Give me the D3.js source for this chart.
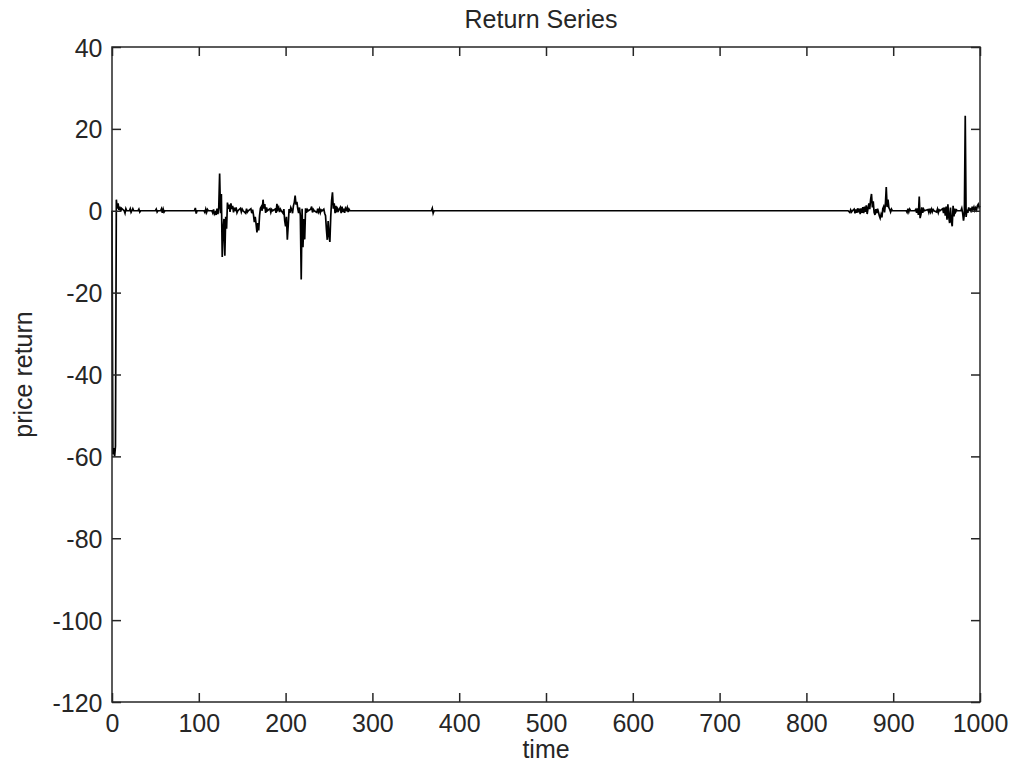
<!DOCTYPE html>
<html>
<head>
<meta charset="utf-8">
<script src="https://cdn.jsdelivr.net/npm/d3@7"></script>
<style>
  body { margin: 0; background: #fff; }
  text { font-family: "Liberation Sans", Arial, sans-serif; fill: #262626; }
</style>
</head>
<body>
<svg id="chart"></svg>
<script>
// tick labels
var xTicks = [0, 100, 200, 300, 400, 500, 600, 700, 800, 900, 1000];
var yTicks = [40, 20, 0, -20, -40, -60, -80, -100, -120];

// return series (flat at 0 between the listed points)
var tEarly = [0, 1, 2, 3, 4, 5, 6, 7, 8, 9, 10, 11, 14, 15, 16, 17, 20, 21, 22, 23, 24, 25, 30, 31, 32, 33,
    50, 51, 52, 53, 56, 57, 58, 59, 60, 61, 95, 96, 97, 98, 106, 107, 108, 109, 110, 111,
    115, 116, 117, 118, 119, 120, 121, 122, 123, 124, 125, 126, 127, 128, 129, 130, 131, 132, 133, 134,
    135, 136, 137, 138, 139, 140, 141, 142, 143, 144, 145, 148, 149, 150, 151, 154, 155, 156, 157,
    160, 161, 162, 163, 164, 165, 166, 167, 168, 169, 170, 171, 172, 173, 174, 175, 176, 177, 178, 179,
    182, 183, 184, 185, 188, 189, 190, 191, 192, 193, 194, 195, 197, 198, 199, 200, 201, 202, 203, 204,
    205, 206, 207, 208, 209, 210, 211, 212, 213, 214, 215, 216, 217, 218, 219, 220, 221, 222, 223, 224,
    225, 226, 229, 230, 231, 232, 233, 236, 237, 238, 239, 240, 241, 242, 244, 245, 246, 247, 248, 249,
    250, 251, 252, 253, 254, 255, 256, 257, 258, 259, 260, 261, 263, 264, 265, 266, 267, 268, 269, 270,
    271, 272, 273, 274];
var rEarly = [0, -59.5, -58, -60, -57.5, 2.7, 0.5, 1.8, 0.2, 1.0, -0.2, 0.6, 0, -0.6, 0.5, 0, 0, 0.5, -0.4, 0, 0.5, 0, 0, 0.4, -0.3, 0,
    0, 0.4, -0.3, 0, 0, 0.5, -0.5, 0.4, -0.3, 0, 0, 0.7, -0.7, 0, 0, -0.4, 0.4, -0.4, 0.3, 0,
    0, -0.5, 0.3, -0.8, -0.4, -1.0, 0.5, -0.8, 0.8, 9.1, -0.6, 4.1, -11.3, -4.6, -2, -11.0, -1.5, -4.4, 2, 0.5,
    1.5, -0.3, 1.8, 0.4, 1.2, -0.4, 0.5, 0.2, 0.8, -0.5, 0, 0.6, -0.3, 0.4, 0, -0.6, 0.5, -0.3, 0,
    0.5, -0.6, 0.3, -1.0, -2.8, -1.5, -3.2, -5.3, -3.0, -4.8, -1.2, 0.6, 1.0, 0, 2.7, 0.5, 1.6, -0.5, 0.8, 0,
    0.5, -0.4, 0.3, 0, 0.4, -0.5, 1.7, 0.3, 0.8, -0.3, 0.4, 0, -0.6, 0.4, -2.5, -3.8, -1.5, -7.1, -3.6, 0.4,
    -0.5, 0.8, 0.3, -0.6, 1.2, 2.0, 3.7, 1.5, 2.2, 0.5, -0.6, 0.8, -1.2, -16.8, 0.5, -8.9, -2, -7, 0.6, -0.5,
    0.3, 0, 0.4, 1.0, -0.4, 0.3, 0, -0.4, 0.5, -0.3, 0.4, -0.5, 0.2, 0, 0.4, -0.6, -1.2, -4.5, -7.1, -2.5,
    -6.0, -7.6, -1.5, 2.5, 4.5, 0.5, 1.8, -0.6, 1.2, -0.4, 0.5, 0, 0.8, -0.6, 1.0, -0.3, 0.5, -0.5, 0.6, 0.2,
    0.8, -0.3, 0.4, 0];

var tQuiet = [368, 369, 370, 371];
var rQuiet = [0, 0.6, -0.6, 0];

var tLate = [848, 850, 851, 852, 853, 855, 856, 857, 858, 859, 860, 861, 862, 863, 864, 865, 866, 867, 868, 869,
    870, 871, 872, 873, 874, 875, 876, 877, 878, 879, 880, 881, 882, 883, 884, 885, 886, 887, 888, 889,
    890, 891, 892, 893, 894, 895, 896, 897, 898, 899, 915, 916, 917, 918, 919, 920, 925, 926, 927, 928,
    929, 930, 931, 932, 933, 934, 935, 936, 940, 941, 942, 943, 944, 945, 946, 947, 950, 951, 952, 953,
    954, 957, 958, 959, 960, 961, 962, 963, 964, 965, 966, 967, 968, 969, 970, 971, 972, 973, 974, 978,
    979, 980, 981, 982, 983, 984, 985, 986, 987, 988, 989, 990, 991, 992, 993, 994, 995, 996, 997, 998,
    999, 1000];
var rLate = [0, -0.4, 0.2, -0.3, 0, 0.4, -0.6, 0.3, -0.5, 0.6, -0.4, 0.5, -0.8, 0.6, -0.5, 0.9, -0.6, 1.0, -0.3, 1.3,
    -0.8, 0.6, 1.8, 0.4, 2.8, 4.1, 0.8, 2.3, -0.4, -1.0, 0.4, -0.6, 0.5, -0.3, -1.2, -1.8, -0.9, -1.6, 0.5, 1.0,
    -0.4, 1.5, 5.8, 0.9, 2.7, 0.8, 0.3, -0.3, 0.4, 0, 0, -0.4, 0.5, -0.3, 0.4, 0, 0, 0.3, -0.5, 0.6,
    -1.0, 3.5, -1.8, -0.9, 0.8, -0.5, 0.4, 0, 0.3, -0.4, 0.5, -0.3, 0.4, -0.3, 0.3, 0, -0.3, 0.4, -0.5, 0.2,
    0, 0.5, -0.6, 0.8, -1.2, 1.0, -2.2, 1.6, -1.5, -3.0, 0.8, -2.6, -3.8, 1.2, -1.4, 0.5, -0.3, 0.2, 0, 0,
    0.6, -0.5, -2.4, -0.8, 23.2, -1.5, 0.3, -0.5, 0.8, 0.2, 0.4, -0.4, 1.0, 0.3, 0.9, 0.1, 0.7, 0.2, 1.2, 1.6,
    0.8, 1.2];

var times = tEarly.concat(tQuiet, tLate);
var returns = rEarly.concat(rQuiet, rLate);
var series = times.map(function(t, i) { return {t: t, r: returns[i]}; });

var width = 1013, height = 774;
var plotLeft = 112, plotRight = 980, plotTop = 47, plotBottom = 702;
var axisColor = "#262626";

var svg = d3.select("#chart")
    .attr("width", width)
    .attr("height", height);

svg.append("rect")
    .attr("width", width)
    .attr("height", height)
    .attr("fill", "#fff");

var x = d3.scaleLinear().domain([0, 1000]).range([plotLeft, plotRight]);
var y = d3.scaleLinear().domain([-120, 40]).range([plotBottom, plotTop]);

// data line
var line = d3.line()
    .x(function(d) { return x(d.t); })
    .y(function(d) { return y(d.r); });

svg.append("path")
    .datum(series)
    .attr("fill", "none")
    .attr("stroke", "#000")
    .attr("stroke-width", 1.7)
    .attr("stroke-linejoin", "miter")
    .attr("d", line);

// axes, ticks pointing inward on all four sides
var fmt = function(d) { return String(d); };

var bottomAxis = svg.append("g")
    .attr("transform", `translate(0,${plotBottom})`)
    .call(d3.axisBottom(x).tickValues(xTicks).tickSizeInner(-9).tickSizeOuter(0).tickPadding(12).tickFormat(fmt));

var topAxis = svg.append("g")
    .attr("transform", `translate(0,${plotTop})`)
    .call(d3.axisTop(x).tickValues(xTicks).tickSizeInner(-9).tickSizeOuter(0).tickFormat(""));

var leftAxis = svg.append("g")
    .attr("transform", `translate(${plotLeft},0)`)
    .call(d3.axisLeft(y).tickValues(yTicks).tickSizeInner(-9).tickSizeOuter(0).tickPadding(9.5).tickFormat(fmt));

var rightAxis = svg.append("g")
    .attr("transform", `translate(${plotRight},0)`)
    .call(d3.axisRight(y).tickValues(yTicks).tickSizeInner(-9).tickSizeOuter(0).tickFormat(""));

svg.selectAll(".domain").remove();
svg.selectAll(".tick line")
    .attr("stroke", axisColor)
    .attr("stroke-width", 1.5);
svg.selectAll(".tick text")
    .attr("fill", axisColor)
    .style("font-size", "25px")
    .style("font-family", "'Liberation Sans', Arial, sans-serif");
leftAxis.selectAll(".tick text").attr("dy", "0.36em");

// box
svg.append("rect")
    .attr("x", plotLeft)
    .attr("y", plotTop)
    .attr("width", plotRight - plotLeft)
    .attr("height", plotBottom - plotTop)
    .attr("fill", "none")
    .attr("stroke", axisColor)
    .attr("stroke-width", 1.5);

// labels
svg.append("text")
    .attr("x", 541)
    .attr("y", 28)
    .attr("text-anchor", "middle")
    .style("font-size", "25px")
    .text("Return Series");

svg.append("text")
    .attr("x", (plotLeft + plotRight) / 2)
    .attr("y", 758)
    .attr("text-anchor", "middle")
    .style("font-size", "25px")
    .text("time");

svg.append("text")
    .attr("transform", `translate(32,${(plotTop + plotBottom) / 2}) rotate(-90)`)
    .attr("text-anchor", "middle")
    .style("font-size", "25px")
    .text("price return");
</script>
</body>
</html>
